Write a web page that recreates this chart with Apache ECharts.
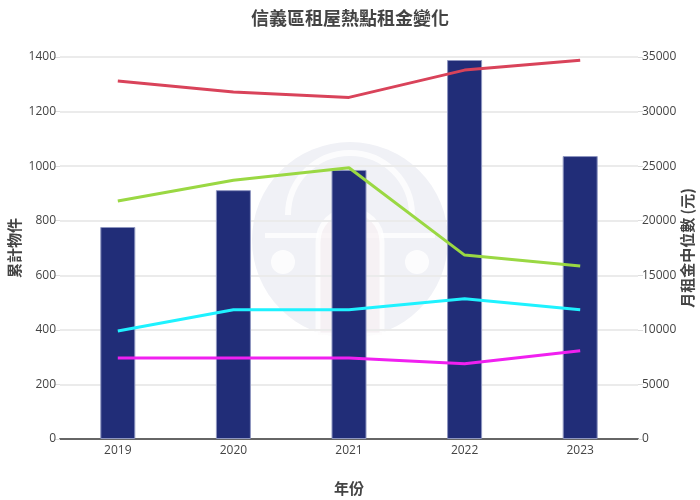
<!DOCTYPE html>
<html><head><meta charset="utf-8">
<script src="https://cdn.jsdelivr.net/npm/echarts@6/dist/echarts.min.js"></script>
<style>html,body{margin:0;padding:0;background:#fff}#c{width:700px;height:500px}</style>
</head><body><div id="c"></div>
<script>
const years = ['2019','2020','2021','2022','2023'];
const listings = [777, 912, 986, 1389, 1037];
const rentRed = [32800, 31800, 31300, 33800, 34700];
const rentGreen = [21800, 23700, 24850, 16850, 15850];
const rentCyan = [9900, 11850, 11850, 12850, 11850];
const rentMagenta = [7420, 7420, 7420, 6900, 8080];

const chart = echarts.init(document.getElementById('c'), null, {renderer:'canvas'});
const font = '"Open Sans", "Noto Sans CJK TC", sans-serif';
const cjk = '"Noto Sans CJK TC", sans-serif';
function line(data, color){
  return {type:'line', yAxisIndex:1, data, symbol:'none', z:5,
    lineStyle:{color, width:3}, itemStyle:{color}};
}
const plain = v => String(v);
chart.setOption({
  animation:false,
  title:{text:'信義區租屋熱點租金變化', left:'center', top:4,
    textStyle:{fontFamily:cjk, fontSize:18, fontWeight:'bold', color:'#444'}},
  graphic:[
    {type:'circle', shape:{cx:350, cy:240, r:98}, style:{fill:'#f0f1f6'}, z:-10, silent:true},
    {type:'arc', shape:{cx:350, cy:215, r:62, startAngle:Math.PI, endAngle:2*Math.PI}, style:{stroke:'#ffffff', lineWidth:6, fill:null, opacity:0.8}, z:-9, silent:true},
    {type:'rect', shape:{x:265, y:233, width:170, height:5}, style:{fill:'#ffffff', opacity:0.8}, z:-9, silent:true},
    {type:'rect', shape:{x:318, y:210, width:64, height:125, r:[32,32,0,0]}, style:{fill:'#f8f1f4', stroke:'#ffffff', lineWidth:5, opacity:0.8}, z:-9, silent:true},
    {type:'circle', shape:{cx:283, cy:262, r:12}, style:{fill:'#ffffff', opacity:0.8}, z:-9, silent:true},
    {type:'circle', shape:{cx:417, cy:262, r:12}, style:{fill:'#ffffff', opacity:0.8}, z:-9, silent:true}
  ],
  grid:{left:60, right:62, top:57, bottom:61, containLabel:false, outerBoundsMode:'none'},
  xAxis:{type:'category', data:years,
    axisLine:{lineStyle:{color:'#666', width:2}}, axisTick:{show:false},
    axisLabel:{color:'#444', fontFamily:font, fontSize:12, margin:6},
    name:'年份', nameLocation:'middle', nameGap:42, nameMoveOverlap:false,
    nameTextStyle:{fontFamily:cjk, fontSize:15, fontWeight:'bold', color:'#444'}},
  yAxis:[
    {type:'value', min:0, max:1400, interval:200, position:'left',
      axisLine:{show:false}, axisTick:{show:true, length:5, lineStyle:{color:'#ddd'}},
      splitLine:{lineStyle:{color:'#ebebeb', width:2}},
      axisLabel:{color:'#444', fontFamily:font, fontSize:12, margin:4, formatter:plain},
      name:'累計物件', nameLocation:'middle', nameGap:38, nameRotate:90, nameMoveOverlap:false,
      nameTextStyle:{fontFamily:cjk, fontSize:15, fontWeight:'bold', color:'#444'}},
    {type:'value', min:0, max:35000, interval:5000, position:'right',
      axisLine:{show:false}, axisTick:{show:true, length:5, lineStyle:{color:'#ddd'}},
      splitLine:{lineStyle:{color:'#ebebeb', width:2}},
      axisLabel:{color:'#444', fontFamily:font, fontSize:12, margin:4, formatter:plain},
      name:'月租金中位數 (元)', nameLocation:'middle', nameGap:42, nameRotate:90, nameMoveOverlap:false,
      nameTextStyle:{fontFamily:cjk, fontSize:15, fontWeight:'bold', color:'#444'}}
  ],
  series:[
    {type:'bar', data:listings, barWidth:35, z:2,
      itemStyle:{color:'#212d78', borderColor:'#8e96c0', borderWidth:1}},
    line(rentRed, '#d9435a'),
    line(rentGreen, '#9ad843'),
    line(rentCyan, '#1ef2ff'),
    line(rentMagenta, '#f020f0')
  ]
});
</script></body></html>
